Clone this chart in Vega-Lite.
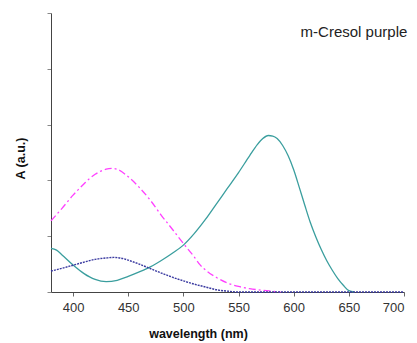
{
  "$schema": "https://vega.github.io/schema/vega-lite/v6.json",
  "autosize": {"type": "none"},
  "padding": {"left": 51, "top": 13, "right": 13, "bottom": 51},
  "width": 353,
  "height": 279,
  "background": "white",
  "config": {
    "view": {"stroke": null},
    "font": "Liberation Sans"
  },
  "datasets": {
    "spectra": [
      {"wl": 380, "A": 1.56, "s": "teal"}, {"wl": 385, "A": 1.50, "s": "teal"}, {"wl": 390, "A": 1.33, "s": "teal"},
      {"wl": 400, "A": 0.97, "s": "teal"}, {"wl": 410, "A": 0.66, "s": "teal"}, {"wl": 415, "A": 0.54, "s": "teal"},
      {"wl": 420, "A": 0.45, "s": "teal"}, {"wl": 430, "A": 0.37, "s": "teal"}, {"wl": 440, "A": 0.42, "s": "teal"},
      {"wl": 450, "A": 0.56, "s": "teal"}, {"wl": 460, "A": 0.72, "s": "teal"}, {"wl": 470, "A": 0.90, "s": "teal"},
      {"wl": 480, "A": 1.13, "s": "teal"}, {"wl": 490, "A": 1.39, "s": "teal"}, {"wl": 500, "A": 1.68, "s": "teal"},
      {"wl": 510, "A": 2.10, "s": "teal"}, {"wl": 520, "A": 2.60, "s": "teal"}, {"wl": 530, "A": 3.16, "s": "teal"},
      {"wl": 540, "A": 3.72, "s": "teal"}, {"wl": 550, "A": 4.28, "s": "teal"}, {"wl": 560, "A": 4.88, "s": "teal"},
      {"wl": 567, "A": 5.28, "s": "teal"}, {"wl": 572, "A": 5.50, "s": "teal"}, {"wl": 577, "A": 5.61, "s": "teal"},
      {"wl": 581, "A": 5.59, "s": "teal"}, {"wl": 585, "A": 5.50, "s": "teal"}, {"wl": 590, "A": 5.25, "s": "teal"},
      {"wl": 595, "A": 4.88, "s": "teal"}, {"wl": 600, "A": 4.38, "s": "teal"}, {"wl": 605, "A": 3.76, "s": "teal"},
      {"wl": 610, "A": 3.12, "s": "teal"}, {"wl": 615, "A": 2.50, "s": "teal"}, {"wl": 620, "A": 1.98, "s": "teal"},
      {"wl": 625, "A": 1.52, "s": "teal"}, {"wl": 630, "A": 1.12, "s": "teal"}, {"wl": 635, "A": 0.78, "s": "teal"},
      {"wl": 640, "A": 0.48, "s": "teal"}, {"wl": 645, "A": 0.24, "s": "teal"}, {"wl": 650, "A": 0.05, "s": "teal"},
      {"wl": 655, "A": 0.0, "s": "teal"},

      {"wl": 380, "A": 2.55, "s": "magenta"}, {"wl": 390, "A": 3.00, "s": "magenta"}, {"wl": 400, "A": 3.47, "s": "magenta"},
      {"wl": 410, "A": 3.88, "s": "magenta"}, {"wl": 415, "A": 4.07, "s": "magenta"}, {"wl": 420, "A": 4.22, "s": "magenta"},
      {"wl": 430, "A": 4.40, "s": "magenta"}, {"wl": 436, "A": 4.43, "s": "magenta"}, {"wl": 440, "A": 4.40, "s": "magenta"},
      {"wl": 450, "A": 4.13, "s": "magenta"}, {"wl": 460, "A": 3.75, "s": "magenta"}, {"wl": 470, "A": 3.29, "s": "magenta"},
      {"wl": 480, "A": 2.75, "s": "magenta"}, {"wl": 490, "A": 2.25, "s": "magenta"}, {"wl": 500, "A": 1.74, "s": "magenta"},
      {"wl": 510, "A": 1.25, "s": "magenta"}, {"wl": 515, "A": 0.98, "s": "magenta"}, {"wl": 521, "A": 0.76, "s": "magenta"},
      {"wl": 530, "A": 0.52, "s": "magenta"}, {"wl": 540, "A": 0.32, "s": "magenta"}, {"wl": 550, "A": 0.20, "s": "magenta"},
      {"wl": 560, "A": 0.12, "s": "magenta"}, {"wl": 570, "A": 0.07, "s": "magenta"}, {"wl": 580, "A": 0.03, "s": "magenta"},
      {"wl": 588, "A": 0.0, "s": "magenta"},

      {"wl": 380, "A": 0.75, "s": "blue"}, {"wl": 390, "A": 0.85, "s": "blue"}, {"wl": 400, "A": 0.96, "s": "blue"},
      {"wl": 410, "A": 1.07, "s": "blue"}, {"wl": 420, "A": 1.17, "s": "blue"}, {"wl": 430, "A": 1.22, "s": "blue"},
      {"wl": 437, "A": 1.24, "s": "blue"}, {"wl": 445, "A": 1.20, "s": "blue"}, {"wl": 450, "A": 1.14, "s": "blue"},
      {"wl": 460, "A": 1.00, "s": "blue"}, {"wl": 470, "A": 0.84, "s": "blue"}, {"wl": 480, "A": 0.68, "s": "blue"},
      {"wl": 490, "A": 0.53, "s": "blue"}, {"wl": 500, "A": 0.40, "s": "blue"}, {"wl": 510, "A": 0.28, "s": "blue"},
      {"wl": 520, "A": 0.18, "s": "blue"}, {"wl": 530, "A": 0.08, "s": "blue"}, {"wl": 540, "A": 0.03, "s": "blue"},
      {"wl": 550, "A": 0.0, "s": "blue"}, {"wl": 600, "A": 0.0, "s": "blue"}, {"wl": 700, "A": 0.0, "s": "blue"}
    ],
    "label": [{"text": "m-Cresol purple"}]
  },
  "layer": [
    {
      "data": {"name": "spectra"},
      "transform": [{"filter": "datum.s === 'teal'"}],
      "mark": {"type": "line", "interpolate": "monotone", "color": "#3a9e9e", "strokeWidth": 1.3},
      "encoding": {
        "x": {
          "field": "wl", "type": "quantitative",
          "scale": {"domain": [380, 700], "nice": false, "zero": false},
          "axis": {
            "title": "wavelength  (nm)",
            "values": [400, 450, 500, 550, 600, 650, 700],
            "grid": false,
            "domainColor": "#444", "tickColor": "#666", "tickSize": 4,
            "labelFontSize": 13, "labelColor": "#333", "labelPadding": 5,
            "labelFont": "Liberation Sans",
            "titleFont": "Liberation Sans", "titleFontSize": 12.5, "titleFontWeight": "bold", "titleColor": "#111",
            "titleX": 147, "titleY": 41, "titleBaseline": "middle", "titleAlign": "center"
          }
        },
        "y": {
          "field": "A", "type": "quantitative",
          "scale": {"domain": [0, 10], "nice": false},
          "axis": {
            "title": "A (a.u.)",
            "values": [0, 1, 2, 3, 4, 5, 6, 7, 8, 9, 10],
            "labels": false, "grid": false,
            "domainColor": "#444", "tickColor": "#888", "tickSize": 4,
            "titleFont": "Liberation Sans", "titleFontSize": 12.5, "titleFontWeight": "bold", "titleColor": "#111",
            "titleX": -31, "titleY": 145, "titleBaseline": "middle", "titleAlign": "center", "titleAngle": -90
          }
        }
      }
    },
    {
      "data": {"name": "spectra"},
      "transform": [{"filter": "datum.s === 'magenta'"}],
      "mark": {"type": "line", "interpolate": "monotone", "color": "#ff40ff", "strokeWidth": 1.3, "strokeDash": [7, 3, 2, 3]},
      "encoding": {
        "x": {"field": "wl", "type": "quantitative"},
        "y": {"field": "A", "type": "quantitative"}
      }
    },
    {
      "data": {"name": "spectra"},
      "transform": [{"filter": "datum.s === 'blue'"}],
      "mark": {"type": "line", "interpolate": "monotone", "color": "#3a3aa0", "strokeWidth": 1.4, "strokeDash": [2, 1]},
      "encoding": {
        "x": {"field": "wl", "type": "quantitative"},
        "y": {"field": "A", "type": "quantitative"}
      }
    },
    {
      "data": {"name": "label"},
      "mark": {"type": "text", "align": "right", "baseline": "middle", "fontSize": 15, "color": "#222", "font": "Liberation Sans"},
      "encoding": {
        "x": {"datum": 703, "type": "quantitative"},
        "y": {"datum": 9.33, "type": "quantitative"},
        "text": {"field": "text", "type": "nominal"}
      }
    }
  ]
}
